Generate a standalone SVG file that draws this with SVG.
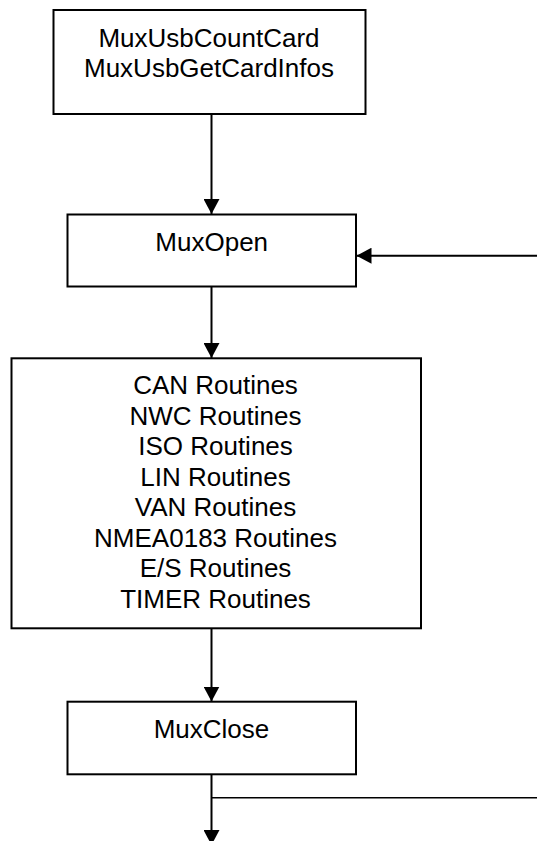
<svg xmlns="http://www.w3.org/2000/svg" width="537" height="841" viewBox="0 0 537 841">
  <style>
    .box { fill: #ffffff; stroke: #000000; stroke-width: 2; }
    .lbl { font-family: "Liberation Sans", Arial, sans-serif; font-size: 26px; fill: #000000; text-anchor: middle; }
    .conn { fill: none; stroke: #000000; stroke-width: 2; }
    .thin { fill: none; stroke: #000000; stroke-width: 1.6; }
  </style>
  <defs>
    <marker id="arrow" markerUnits="userSpaceOnUse" markerWidth="16" markerHeight="16" refX="15" refY="8" orient="auto">
      <path d="M0,0 L15,8 L0,16 Z" fill="#000000"/>
    </marker>
  </defs>
  <rect x="0" y="0" width="537" height="841" fill="#ffffff"/>

  <g id="connectors">
    <line class="conn" x1="211.5" y1="114" x2="211.5" y2="214" marker-end="url(#arrow)"/>
    <line class="conn" x1="537" y1="255.7" x2="356.5" y2="255.7" marker-end="url(#arrow)"/>
    <line class="conn" x1="211.5" y1="286.5" x2="211.5" y2="358" marker-end="url(#arrow)"/>
    <line class="conn" x1="211.5" y1="628.3" x2="211.5" y2="701.5" marker-end="url(#arrow)"/>
    <line class="conn" x1="211.5" y1="774.3" x2="211.5" y2="845" marker-end="url(#arrow)"/>
    <line class="thin" x1="211.5" y1="797.7" x2="537" y2="797.7"/>
  </g>

  <g id="node-cardinfo">
    <rect class="box" x="53.5" y="10" width="312" height="104"/>
    <text class="lbl" x="209" y="46.7">MuxUsbCountCard</text>
    <text class="lbl" x="209" y="76.7">MuxUsbGetCardInfos</text>
  </g>

  <g id="node-muxopen">
    <rect class="box" x="67.5" y="214.5" width="288.5" height="72"/>
    <text class="lbl" x="211.7" y="250.7">MuxOpen</text>
  </g>

  <g id="node-routines">
    <rect class="box" x="11.5" y="358.3" width="409.5" height="270"/>
    <text class="lbl" x="215.5" y="394.3">CAN Routines</text>
    <text class="lbl" x="215.5" y="424.8">NWC Routines</text>
    <text class="lbl" x="215.5" y="455.3">ISO Routines</text>
    <text class="lbl" x="215.5" y="485.8">LIN Routines</text>
    <text class="lbl" x="215.5" y="516.3">VAN Routines</text>
    <text class="lbl" x="215.5" y="546.7">NMEA0183 Routines</text>
    <text class="lbl" x="215.5" y="577.2">E/S Routines</text>
    <text class="lbl" x="215.5" y="607.7">TIMER Routines</text>
  </g>

  <g id="node-muxclose">
    <rect class="box" x="67.5" y="701.7" width="288.5" height="72.6"/>
    <text class="lbl" x="211.5" y="738.3">MuxClose</text>
  </g>
</svg>
